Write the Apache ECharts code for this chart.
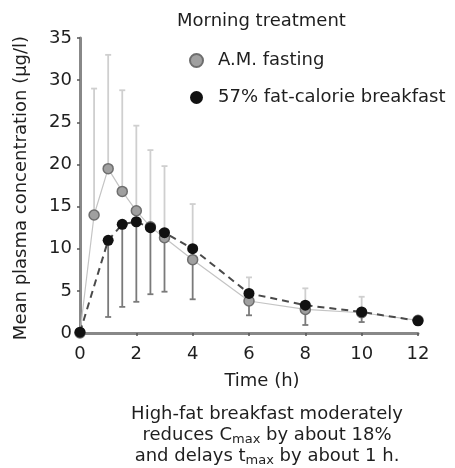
<!DOCTYPE html>
<html>
<head>
<meta charset="utf-8">
<style>
  html, body { margin: 0; padding: 0; background: #fff; }
  #chart { width: 455px; height: 468px; }
</style>
<script src="https://cdn.jsdelivr.net/npm/echarts@6/dist/echarts.min.js"></script>
</head>
<body>
<div id="chart"></div>
<script>
// Sampling times (h)
const fastTimes = [0, 0.5, 1, 1.5, 2, 2.5, 3, 4, 6, 8, 10, 12];
const fastMeans = [0, 14.0, 19.5, 16.8, 14.5, 12.6, 11.3, 8.7, 3.8, 2.8, 2.4, 1.5];
// Upper end of the SD bar for the fasting arm (null = no bar)
const fastUpper = [null, 29.0, 33.0, 28.8, 24.6, 21.7, 19.8, 15.3, 6.6, 5.3, 4.3, null];

const mealTimes = [0, 1, 1.5, 2, 2.5, 3, 4, 6, 8, 10, 12];
const mealMeans = [0.1, 11.0, 12.9, 13.2, 12.5, 11.9, 10.0, 4.7, 3.3, 2.5, 1.45];
// Lower end of the SD bar for the breakfast arm (null = no bar)
const mealLower = [null, 1.9, 3.1, 3.7, 4.6, 4.9, 4.0, 2.1, 0.95, 1.3, null];

const xTicks = [0, 2, 4, 6, 8, 10, 12];
const yTicks = [0, 5, 10, 15, 20, 25, 30, 35];

const FONT = '"DejaVu Sans", Verdana, sans-serif';
const INK = '#1e1e1e';

function pairs(xs, ys) { return xs.map((x, i) => [x, ys[i]]); }
function barData(xs, from, to) {
  const out = [];
  xs.forEach((x, i) => { if (to[i] != null) out.push([x, from[i], to[i]]); });
  return out;
}

// Vertical SD whisker with a short cap at its far end
function errorBar(color, width) {
  return function (params, api) {
    const x = api.value(0);
    const a = api.coord([x, api.value(1)]);
    const b = api.coord([x, api.value(2)]);
    const half = 3;
    const style = { stroke: color, lineWidth: width };
    return {
      type: 'group',
      children: [
        { type: 'line', shape: { x1: a[0], y1: a[1], x2: b[0], y2: b[1] }, style },
        { type: 'line', shape: { x1: b[0] - half, y1: b[1], x2: b[0] + half, y2: b[1] }, style }
      ]
    };
  };
}

const chart = echarts.init(document.getElementById('chart'), null, { renderer: 'canvas' });

chart.setOption({
  animation: false,
  backgroundColor: '#ffffff',
  textStyle: { fontFamily: FONT },
  title: {
    text: 'Morning treatment',
    left: 172, top: 7,
    textStyle: { fontFamily: FONT, fontSize: 18, fontWeight: 'normal', color: INK }
  },
  legend: {
    orient: 'vertical',
    left: 184, top: 45,
    icon: 'circle',
    itemWidth: 13, itemHeight: 13,
    itemGap: 16,
    data: ['A.M. fasting', '57% fat-calorie breakfast'],
    textStyle: { fontFamily: FONT, fontSize: 18, color: INK, lineHeight: 18, padding: [3, 0, 0, 10] }
  },
  grid: { left: 80, right: 37, top: 38, bottom: 135 },
  xAxis: {
    type: 'value', min: 0, max: 12, interval: 2,
    axisLine: { onZero: false, lineStyle: { color: '#888', width: 3 } },
    axisTick: { show: true, length: 3, lineStyle: { color: '#555', width: 1.5 } },
    axisLabel: { fontFamily: FONT, fontSize: 18, color: INK, margin: 12,
      formatter: v => xTicks.includes(v) ? String(v) : '' },
    splitLine: { show: false }
  },
  yAxis: {
    type: 'value', min: 0, max: 35, interval: 5,
    axisLine: { show: true, lineStyle: { color: '#888', width: 3 } },
    axisTick: { show: true, length: 3, lineStyle: { color: '#555', width: 1.5 } },
    axisLabel: { fontFamily: FONT, fontSize: 18, color: INK, margin: 8,
      formatter: v => yTicks.includes(v) ? String(v) : '' },
    splitLine: { show: false }
  },
  graphic: [
    {
      type: 'text', x: 21, y: 188, rotation: Math.PI / 2,
      style: {
        text: 'Mean plasma concentration (µg/l)',
        font: '18px ' + FONT, fill: INK,
        align: 'center', verticalAlign: 'middle'
      }
    },
    {
      type: 'text', x: 262, y: 381,
      style: {
        text: 'Time (h)',
        font: '18px ' + FONT, fill: INK,
        align: 'center', verticalAlign: 'middle'
      }
    },
    {
      type: 'text', x: 267, y: 404,
      style: {
        text: 'High-fat breakfast moderately\nreduces C{sub|max} by about 18%\nand delays t{sub|max} by about 1 h.',
        font: '18px ' + FONT, fill: INK,
        align: 'center', verticalAlign: 'top',
        lineHeight: 21,
        rich: {
          sub: { fontSize: 13, fontFamily: FONT, fill: INK, verticalAlign: 'bottom', lineHeight: 19 }
        }
      }
    }
  ],
  series: [
    {
      name: 'fast-sd', type: 'custom', z: 1,
      renderItem: errorBar('#cfcfcf', 1.8),
      encode: { x: 0, y: [1, 2] },
      data: barData(fastTimes, fastMeans, fastUpper)
    },
    {
      name: 'meal-sd', type: 'custom', z: 1,
      renderItem: errorBar('#7a7a7a', 1.8),
      encode: { x: 0, y: [1, 2] },
      data: barData(mealTimes, mealMeans, mealLower)
    },
    {
      name: 'A.M. fasting', type: 'line', z: 3,
      data: pairs(fastTimes, fastMeans),
      symbol: 'circle', symbolSize: 10,
      lineStyle: { color: '#c4c4c4', width: 1.2 },
      itemStyle: { color: '#a0a0a0', borderColor: '#6e6e6e', borderWidth: 1.5 }
    },
    {
      name: '57% fat-calorie breakfast', type: 'line', z: 4,
      data: pairs(mealTimes, mealMeans),
      symbol: 'circle', symbolSize: 11,
      lineStyle: { color: '#4a4a4a', width: 2, type: [7, 5] },
      itemStyle: { color: '#111', borderColor: '#000', borderWidth: 0 }
    }
  ]
});
</script>
</body>
</html>
